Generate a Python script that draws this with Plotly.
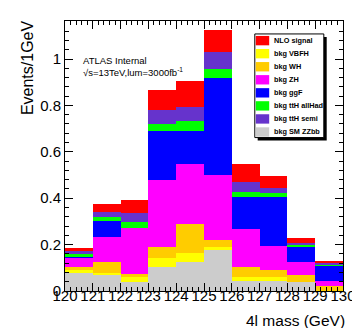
import plotly.graph_objects as go

# ---- data ----
bin_low = [120, 121, 122, 123, 124, 125, 126, 127, 128, 129]
bin_width = 1

zzbb   = [0.077, 0.067, 0.039, 0.102, 0.126, 0.177, 0.042, 0.041, 0.039, 0.001]
vbfh   = [0.013, 0.010, 0.021, 0.040, 0.037, 0.011, 0.018, 0.019, 0.000, 0.001]
wh     = [0.014, 0.047, 0.014, 0.046, 0.126, 0.030, 0.043, 0.032, 0.031, 0.018]
zh     = [0.042, 0.108, 0.199, 0.290, 0.257, 0.281, 0.163, 0.100, 0.053, 0.022]
ggf    = [0.002, 0.070, 0.000, 0.212, 0.142, 0.419, 0.140, 0.213, 0.067, 0.068]
tth_ah = [0.010, 0.016, 0.023, 0.030, 0.045, 0.039, 0.019, 0.017, 0.009, 0.003]
tth_sm = [0.013, 0.024, 0.042, 0.061, 0.062, 0.072, 0.046, 0.024, 0.006, 0.006]
signal = [0.013, 0.033, 0.054, 0.086, 0.112, 0.095, 0.078, 0.049, 0.025, 0.012]

# stacking order (bottom -> top)
stack = [
    ("bkg SM ZZbb", zzbb, "#cccccc"),
    ("bkg VBFH", vbfh, "#ffff00"),
    ("bkg WH", wh, "#ffcc00"),
    ("bkg ZH", zh, "#ff00ff"),
    ("bkg ggF", ggf, "#0000ff"),
    ("bkg ttH allHad", tth_ah, "#00ff00"),
    ("bkg ttH semi", tth_sm, "#6633cc"),
    ("NLO signal", signal, "#ff0000"),
]
legend_order = ["NLO signal", "bkg VBFH", "bkg WH", "bkg ZH", "bkg ggF",
                "bkg ttH allHad", "bkg ttH semi", "bkg SM ZZbb"]

y_ticks = [0, 0.2, 0.4, 0.6, 0.8, 1]
y_tick_text = ["0", "0.2", "0.4", "0.6", "0.8", "1"]
x_ticks = list(range(120, 131))

fig = go.Figure()
for name, vals, col in stack:
    fig.add_trace(go.Bar(
        x=bin_low, y=vals, width=bin_width, offset=0, name=name,
        marker=dict(color=col, line=dict(width=0)), showlegend=False))

# ---- geometry helpers (pixel -> paper) ----
L, R, T, B = 57, 347, 12, 283
W, H = R - L, B - T
def px(x):
    return (x - L) / W
def py(y):
    return (B - y) / H

shapes = []
annotations = []

# legend box with shadow
shapes.append(dict(type="rect", xref="paper", yref="paper",
                   x0=px(258), x1=px(330), y0=py(132), y1=py(28),
                   fillcolor="black", line=dict(width=0), layer="above"))
shapes.append(dict(type="rect", xref="paper", yref="paper",
                   x0=px(255), x1=px(327), y0=py(129), y1=py(25),
                   fillcolor="white", line=dict(color="black", width=1), layer="above"))
colmap = {n: c for n, _, c in stack}
for i, name in enumerate(legend_order):
    yc = 31.7 + 13.1 * i
    shapes.append(dict(type="rect", xref="paper", yref="paper",
                       x0=px(256), x1=px(270), y0=py(yc + 4.7), y1=py(yc - 4.7),
                       fillcolor=colmap[name], line=dict(width=0), layer="above"))
    annotations.append(dict(xref="paper", yref="paper", x=px(273), y=py(yc),
                            xanchor="left", yanchor="middle", showarrow=False,
                            text="<b>" + name + "</b>",
                            font=dict(family="Liberation Sans, Arial", size=7.3, color="black")))

# labels
annotations.append(dict(xref="paper", yref="paper", x=px(74), y=py(51.7),
                        xanchor="left", yanchor="middle", showarrow=False,
                        text="ATLAS Internal",
                        font=dict(family="Liberation Sans, Arial", size=9.5, color="black")))
annotations.append(dict(xref="paper", yref="paper", x=px(74), y=py(63.5),
                        xanchor="left", yanchor="middle", showarrow=False,
                        text="\u221as=13TeV,lum=3000fb<sup>-1</sup>",
                        font=dict(family="Liberation Sans, Arial", size=9.5, color="black")))
annotations.append(dict(xref="paper", yref="paper", x=px(18), y=py(9),
                        xanchor="center", yanchor="top", showarrow=False,
                        textangle=-90, text="Events/1GeV",
                        font=dict(family="Liberation Sans, Arial", size=16, color="black")))
annotations.append(dict(xref="paper", yref="paper", x=px(351), y=py(313),
                        xanchor="right", yanchor="middle", showarrow=False,
                        text="4l mass (GeV)",
                        font=dict(family="Liberation Sans, Arial", size=15.5, color="black")))

fig.update_layout(
    width=360, height=328,
    margin=dict(l=L, r=360 - R, t=T, b=328 - B),
    paper_bgcolor="white", plot_bgcolor="white",
    barmode="stack", bargap=0,
    shapes=shapes, annotations=annotations,
    font=dict(family="Liberation Sans, Arial", color="black"),
    xaxis=dict(range=[120, 130], tickmode="array", tickvals=x_ticks,
               ticktext=[str(v) for v in x_ticks],
               ticks="inside", ticklen=8, tickcolor="black", tickwidth=1,
               ticklabelstandoff=-9,
               minor=dict(dtick=0.2, tick0=120, ticks="inside", ticklen=4,
                          tickcolor="black", showgrid=False),
               showline=True, linecolor="black", linewidth=1, mirror="allticks",
               showgrid=False, zeroline=False,
               tickfont=dict(size=15, family="Liberation Sans, Arial")),
    yaxis=dict(range=[0, 1.164], tickmode="array", tickvals=y_ticks,
               ticktext=y_tick_text,
               ticks="inside", ticklen=8, tickcolor="black", tickwidth=1,
               minor=dict(dtick=0.04, tick0=0, ticks="inside", ticklen=4,
                          tickcolor="black", showgrid=False),
               showline=True, linecolor="black", linewidth=1, mirror="allticks",
               showgrid=False, zeroline=False,
               tickfont=dict(size=15, family="Liberation Sans, Arial")),
)

fig.write_html("out.html")
